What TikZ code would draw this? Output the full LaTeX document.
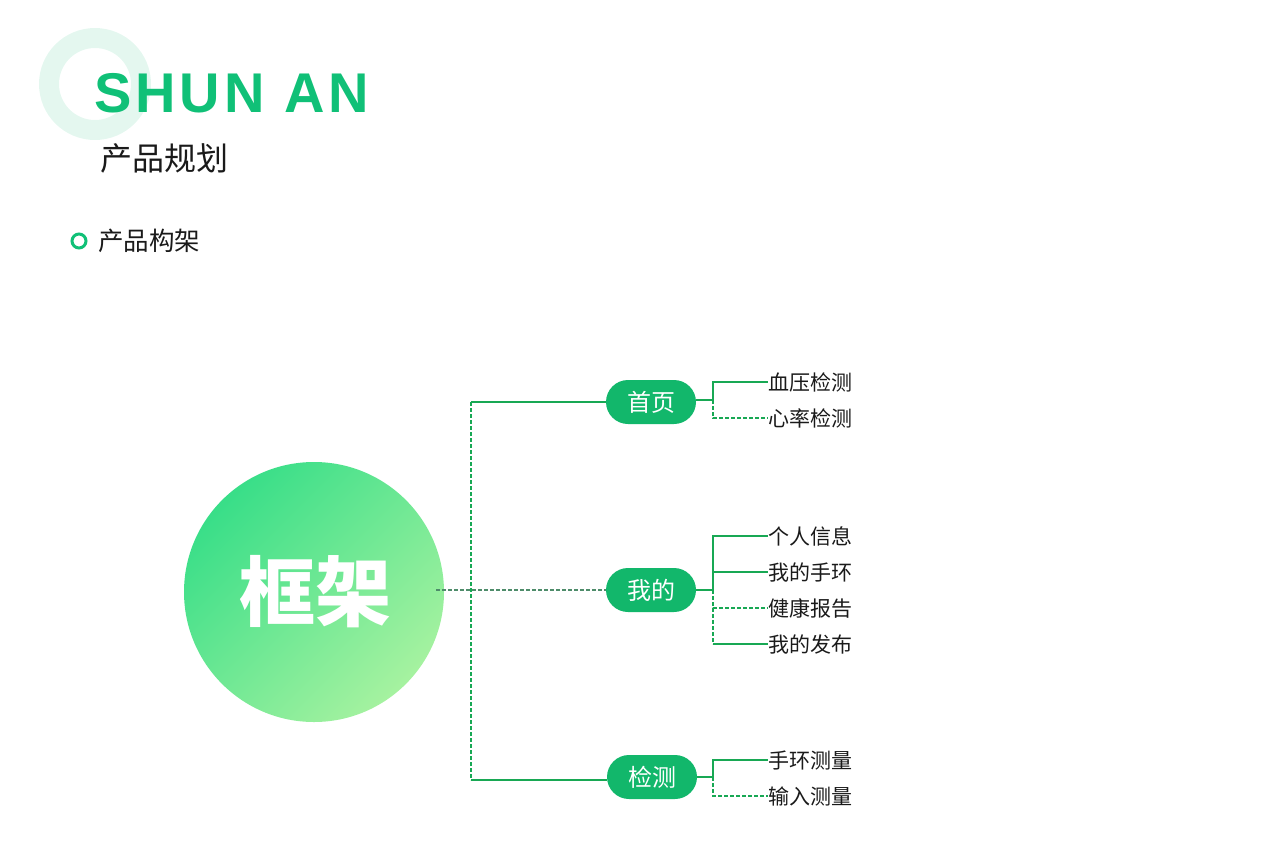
\documentclass[tikz,border=0pt]{standalone}
\usepackage{fontspec}
\setmainfont{Liberation Sans}
\newfontfamily\cjk{Noto Sans CJK SC}
\newfontfamily\titlefont[LetterSpace=7]{Liberation Sans}
\definecolor{ringmint}{HTML}{E4F7EF}
\definecolor{titlegreen}{HTML}{10C077}
\definecolor{pillgreen}{HTML}{12B76B}
\definecolor{linegreen}{HTML}{18A854}
\definecolor{dashgray}{HTML}{4E8C6A}
\definecolor{textdark}{HTML}{1A1A1A}
\definecolor{gradA}{HTML}{38DE88}
\definecolor{gradB}{HTML}{52E693}
\definecolor{gradC}{HTML}{A6F2A0}
\tikzset{
  pill/.style={rounded corners=22pt, fill=pillgreen, minimum width=90pt, minimum height=44pt, text=white, font=\cjk\fontsize{24}{26}\selectfont, inner sep=0pt},
  leaf/.style={anchor=west, text=textdark, font=\cjk\fontsize{21}{23}\selectfont, inner sep=0pt},
  solidlink/.style={draw=linegreen, line width=1.1pt},
  dashlink/.style={draw=linegreen, line width=1.1pt, dash pattern=on 4pt off 2pt},
}
\begin{document}
\begin{tikzpicture}[x=1pt,y=-1pt]
\useasboundingbox (0,0) rectangle (1280,855);
% decorative ring
\fill[ringmint, even odd rule] (95,84) circle (56) (95,84) circle (36);
\node[anchor=west, text=titlegreen, inner sep=0pt, font=\titlefont\bfseries\fontsize{56}{60}\selectfont] (title) at (94,93) {SHUN AN};
\node[anchor=west, text=textdark, inner sep=0pt, font=\cjk\fontsize{32}{34}\selectfont] (sub) at (100,158) {产品规划};
\node[draw=titlegreen, line width=3pt, circle, minimum size=14pt, inner sep=0pt] (dot) at (79,241) {};
\node[anchor=west, text=textdark, inner sep=0pt, font=\cjk\fontsize{25.5}{27}\selectfont] (sec) at (98,241) {产品构架};
% big circle
\shade[left color=gradA, middle color=gradB, right color=gradC, shading angle=45] (314,592) circle (130);
\node[text=white, font=\cjk\bfseries\fontsize{76}{80}\selectfont, inner sep=0pt] (root) at (315,592) {框架};
\coordinate (rootR) at (436,590);
% pills
\node[pill] (p1) at (651,402) {首页};
\node[pill] (p2) at (651,590) {我的};
\node[pill] (p3) at (652,777) {检测};
% trunk
\coordinate (t1) at (471,402);
\coordinate (t3) at (471,780);
\draw[dashlink] (t1) -- (t3);
\draw[dashlink, draw=dashgray] (rootR) -- (p2.west |- rootR);
\draw[solidlink] (t1) -- (p1.west |- t1);
\draw[solidlink] (t3) -- (p3.west |- t3);
% leaves
\node[leaf] (a1) at (768,382) {血压检测};
\node[leaf] (a2) at (768,418) {心率检测};
\node[leaf] (b1) at (768,536) {个人信息};
\node[leaf] (b2) at (768,572) {我的手环};
\node[leaf] (b3) at (768,608) {健康报告};
\node[leaf] (b4) at (768,644) {我的发布};
\node[leaf] (c1) at (768,760) {手环测量};
\node[leaf] (c2) at (768,796) {输入测量};
% junctions
\coordinate (j1) at (713,400);
\coordinate (j2) at (713,590);
\coordinate (j3) at (713,777);
\draw[solidlink] (p1.east |- j1) -- (j1);
\draw[solidlink] (p2.east |- j2) -- (j2);
\draw[solidlink] (p3.east |- j3) -- (j3);
% branches
\draw[solidlink] (j1) -- (j1 |- a1) -- (a1.west);
\draw[dashlink] (j1) -- (j1 |- a2) -- (a2.west);
\draw[solidlink] (j2) -- (j2 |- b1) -- (b1.west);
\draw[solidlink] (j2 |- b2) -- (b2.west);
\draw[dashlink] (j2) -- (j2 |- b3) -- (b3.west);
\draw[dashlink] (j2 |- b3) -- (j2 |- b4);
\draw[solidlink] (j2 |- b4) -- (b4.west);
\draw[solidlink] (j3) -- (j3 |- c1) -- (c1.west);
\draw[dashlink] (j3) -- (j3 |- c2) -- (c2.west);
\end{tikzpicture}
\end{document}
